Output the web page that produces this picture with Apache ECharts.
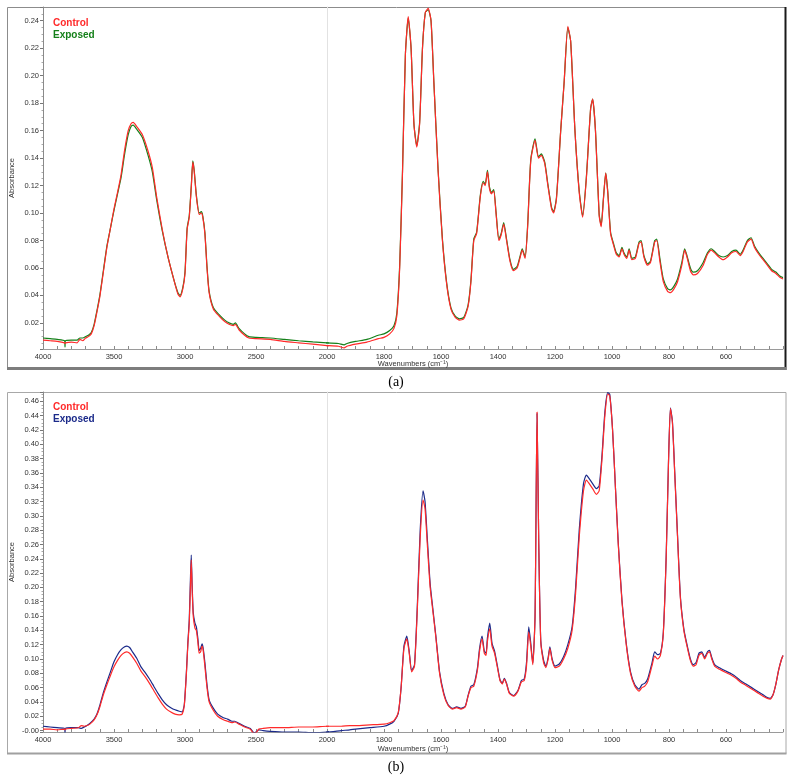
<!DOCTYPE html>
<html>
<head>
<meta charset="utf-8">
<script src="https://cdn.jsdelivr.net/npm/echarts@6/dist/echarts.min.js"></script>
<style>html,body{margin:0;padding:0;background:#fff}#c{width:792px;height:777px}</style>
</head>
<body>
<div id="c"></div>
<script>
// ---------- Panel (a) ----------
const wnA = [4000,3950,3900,3848,3845,3842,3800,3760,3740,3720,3700,3680,3660,3640,3620,3600,3575,3550,3525,3500,3475,3450,3425,3400,3380,3365,3340,3300,3260,3230,3200,3160,3120,3080,3050,3035,3015,3000,2985,2970,2955,2945,2935,2920,2900,2885,2875,2860,2845,2830,2800,2760,2720,2690,2660,2645,2620,2580,2550,2500,2400,2300,2200,2100,2000,1960,1940,1930,1900,1860,1820,1800,1780,1765,1755,1745,1735,1725,1715,1705,1695,1685,1675,1665,1655,1645,1635,1625,1610,1595,1580,1565,1550,1535,1520,1505,1495,1485,1475,1462,1452,1445,1437,1430,1423,1415,1407,1397,1389,1380,1370,1358,1346,1333,1322,1315,1305,1296,1285,1270,1258,1248,1236,1225,1212,1205,1195,1180,1168,1155,1145,1130,1115,1103,1090,1075,1068,1058,1045,1038,1030,1022,1015,1005,995,985,975,965,958,948,940,930,918,905,898,888,875,865,850,843,832,820,805,795,782,770,755,745,737,725,715,700,680,665,652,640,625,610,595,580,565,550,540,525,512,500,485,470,455,440,425,410,400];
const controlA = [0.0075,0.0070,0.0065,0.0055,0.0050,0.0055,0.0060,0.0055,0.0080,0.0070,0.0090,0.0100,0.0120,0.0180,0.0280,0.0390,0.0570,0.0750,0.0890,0.1030,0.1150,0.1280,0.1460,0.1600,0.1650,0.1660,0.1630,0.1570,0.1450,0.1330,0.1120,0.0880,0.0680,0.0520,0.0410,0.0390,0.0450,0.0560,0.0880,0.0970,0.1200,0.1370,0.1300,0.1120,0.0990,0.1000,0.0970,0.0850,0.0600,0.0420,0.0300,0.0250,0.0210,0.0190,0.0180,0.0190,0.0150,0.0110,0.0090,0.0085,0.0080,0.0065,0.0055,0.0045,0.0035,0.0030,0.0018,0.0030,0.0045,0.0060,0.0085,0.0095,0.0120,0.0160,0.0250,0.0600,0.1300,0.2150,0.2430,0.2200,0.1650,0.1480,0.1650,0.2200,0.2460,0.2490,0.2400,0.1950,0.1300,0.0800,0.0480,0.0300,0.0240,0.0220,0.0230,0.0320,0.0500,0.0800,0.0850,0.1120,0.1220,0.1200,0.1300,0.1180,0.1140,0.1160,0.1000,0.0800,0.0840,0.0920,0.0800,0.0650,0.0580,0.0600,0.0680,0.0730,0.0670,0.0900,0.1380,0.1530,0.1400,0.1420,0.1360,0.1200,0.1030,0.1000,0.1100,0.1600,0.1950,0.2360,0.2250,0.1600,0.1150,0.0970,0.1250,0.1760,0.1830,0.1600,0.0980,0.0900,0.1100,0.1290,0.1150,0.0850,0.0770,0.0700,0.0680,0.0740,0.0700,0.0670,0.0730,0.0660,0.0670,0.0780,0.0790,0.0680,0.0620,0.0640,0.0790,0.0800,0.0650,0.0500,0.0430,0.0420,0.0450,0.0500,0.0620,0.0730,0.0680,0.0580,0.0550,0.0560,0.0620,0.0700,0.0730,0.0710,0.0680,0.0660,0.0680,0.0710,0.0720,0.0690,0.0720,0.0790,0.0810,0.0750,0.0700,0.0660,0.0620,0.0580,0.0560,0.0530,0.0520];
const exposedA = [0.0090,0.0085,0.0080,0.0070,0.0025,0.0070,0.0075,0.0075,0.0090,0.0090,0.0100,0.0110,0.0130,0.0190,0.0290,0.0400,0.0580,0.0760,0.0890,0.1020,0.1140,0.1260,0.1430,0.1570,0.1630,0.1640,0.1610,0.1550,0.1420,0.1300,0.1100,0.0870,0.0680,0.0520,0.0420,0.0400,0.0460,0.0570,0.0890,0.0980,0.1210,0.1380,0.1310,0.1130,0.1000,0.1010,0.0980,0.0860,0.0610,0.0430,0.0310,0.0260,0.0220,0.0200,0.0190,0.0200,0.0160,0.0120,0.0100,0.0095,0.0090,0.0080,0.0070,0.0062,0.0055,0.0050,0.0040,0.0050,0.0065,0.0080,0.0110,0.0120,0.0145,0.0180,0.0270,0.0620,0.1310,0.2150,0.2420,0.2200,0.1650,0.1490,0.1660,0.2200,0.2460,0.2480,0.2400,0.1950,0.1310,0.0810,0.0490,0.0310,0.0250,0.0230,0.0240,0.0330,0.0510,0.0810,0.0860,0.1130,0.1230,0.1210,0.1310,0.1190,0.1150,0.1170,0.1010,0.0810,0.0850,0.0930,0.0810,0.0660,0.0590,0.0610,0.0690,0.0740,0.0680,0.0910,0.1390,0.1540,0.1410,0.1430,0.1370,0.1210,0.1040,0.1010,0.1110,0.1600,0.1950,0.2350,0.2250,0.1600,0.1160,0.0980,0.1260,0.1760,0.1830,0.1600,0.0990,0.0910,0.1110,0.1290,0.1160,0.0860,0.0780,0.0710,0.0690,0.0750,0.0710,0.0680,0.0740,0.0670,0.0680,0.0790,0.0800,0.0690,0.0630,0.0650,0.0800,0.0810,0.0670,0.0520,0.0450,0.0440,0.0470,0.0520,0.0640,0.0740,0.0690,0.0600,0.0570,0.0580,0.0640,0.0710,0.0740,0.0720,0.0690,0.0680,0.0690,0.0720,0.0730,0.0700,0.0730,0.0800,0.0820,0.0760,0.0710,0.0670,0.0630,0.0590,0.0570,0.0540,0.0530];

// ---------- Panel (b) ----------
const wnB = [4000,3950,3900,3848,3845,3842,3800,3750,3730,3710,3690,3670,3640,3620,3600,3575,3550,3525,3500,3475,3450,3425,3410,3390,3370,3340,3310,3280,3250,3220,3190,3160,3130,3100,3070,3040,3020,3005,2990,2980,2970,2962,2956,2950,2942,2930,2920,2910,2900,2890,2880,2872,2860,2845,2830,2800,2770,2730,2700,2670,2650,2620,2580,2540,2515,2500,2480,2450,2400,2300,2200,2100,2000,1950,1920,1900,1850,1800,1780,1765,1750,1740,1730,1720,1712,1703,1693,1683,1673,1663,1656,1648,1638,1628,1618,1605,1590,1575,1560,1545,1530,1515,1505,1495,1485,1472,1465,1456,1448,1442,1437,1429,1421,1412,1402,1393,1385,1378,1370,1360,1345,1330,1318,1308,1300,1292,1285,1278,1270,1263,1257,1250,1240,1232,1224,1218,1210,1200,1185,1170,1155,1140,1128,1115,1100,1090,1080,1068,1055,1045,1035,1025,1015,1008,998,988,978,965,950,935,920,905,895,885,875,860,850,840,830,820,810,802,795,788,780,770,760,748,738,725,715,705,695,685,675,665,658,650,640,625,610,595,580,565,550,530,510,490,470,455,445,435,425,415,405,400];
const controlB = [0.002,0.002,0.001,0.002,0.001,0.002,0.003,0.004,0.007,0.006,0.007,0.009,0.015,0.022,0.033,0.050,0.064,0.077,0.089,0.098,0.105,0.109,0.110,0.108,0.103,0.094,0.083,0.075,0.066,0.056,0.046,0.037,0.030,0.026,0.023,0.022,0.023,0.035,0.080,0.120,0.150,0.200,0.238,0.200,0.160,0.143,0.140,0.125,0.108,0.110,0.118,0.112,0.090,0.060,0.040,0.028,0.020,0.015,0.013,0.011,0.012,0.009,0.005,0.002,-0.004,-0.003,0.002,0.003,0.004,0.004,0.005,0.005,0.006,0.006,0.007,0.007,0.008,0.009,0.011,0.014,0.025,0.060,0.115,0.128,0.110,0.082,0.090,0.170,0.270,0.322,0.310,0.260,0.200,0.165,0.130,0.080,0.050,0.035,0.030,0.032,0.030,0.033,0.048,0.060,0.062,0.085,0.110,0.128,0.108,0.105,0.125,0.142,0.118,0.108,0.088,0.070,0.065,0.072,0.065,0.052,0.048,0.055,0.068,0.070,0.090,0.138,0.118,0.092,0.160,0.445,0.260,0.125,0.095,0.088,0.100,0.115,0.098,0.088,0.090,0.100,0.115,0.140,0.190,0.270,0.335,0.350,0.345,0.338,0.330,0.335,0.380,0.440,0.470,0.468,0.420,0.340,0.260,0.180,0.120,0.080,0.062,0.055,0.060,0.062,0.068,0.090,0.104,0.100,0.105,0.135,0.240,0.370,0.450,0.430,0.360,0.270,0.185,0.140,0.120,0.098,0.090,0.092,0.105,0.108,0.100,0.108,0.110,0.100,0.090,0.086,0.083,0.080,0.077,0.073,0.068,0.063,0.058,0.053,0.048,0.045,0.044,0.050,0.065,0.085,0.100,0.105];
const exposedB = [0.006,0.005,0.004,0.003,-0.003,0.003,0.004,0.004,0.003,0.005,0.007,0.010,0.016,0.023,0.035,0.053,0.068,0.082,0.096,0.106,0.113,0.117,0.118,0.116,0.110,0.101,0.089,0.081,0.072,0.062,0.052,0.043,0.036,0.032,0.029,0.027,0.026,0.036,0.082,0.122,0.155,0.210,0.245,0.205,0.165,0.150,0.145,0.130,0.112,0.115,0.121,0.115,0.095,0.064,0.043,0.031,0.023,0.018,0.016,0.013,0.013,0.010,0.006,0.003,-0.003,-0.002,0.001,0.000,-0.001,-0.002,-0.002,-0.003,-0.002,0.000,0.001,0.002,0.004,0.006,0.009,0.013,0.024,0.060,0.118,0.132,0.112,0.084,0.092,0.175,0.280,0.335,0.320,0.268,0.205,0.168,0.132,0.082,0.052,0.036,0.031,0.033,0.031,0.034,0.049,0.062,0.064,0.088,0.114,0.132,0.111,0.108,0.130,0.150,0.122,0.111,0.090,0.071,0.066,0.073,0.066,0.053,0.049,0.056,0.070,0.072,0.095,0.145,0.122,0.094,0.160,0.443,0.260,0.126,0.098,0.090,0.102,0.117,0.100,0.090,0.093,0.103,0.120,0.145,0.198,0.280,0.345,0.357,0.352,0.345,0.338,0.342,0.385,0.445,0.472,0.470,0.420,0.340,0.262,0.182,0.122,0.082,0.064,0.058,0.064,0.066,0.072,0.094,0.110,0.106,0.108,0.137,0.242,0.372,0.451,0.432,0.362,0.272,0.187,0.142,0.122,0.100,0.092,0.095,0.108,0.110,0.102,0.110,0.112,0.102,0.092,0.088,0.085,0.082,0.079,0.075,0.070,0.065,0.060,0.055,0.050,0.046,0.045,0.050,0.065,0.085,0.100,0.105];

// tick labels
const xLabelsHigh = [4000,3500,3000,2500];
const xLabelsLow = [2000,1800,1600,1400,1200,1000,800,600];
const seriesNames = ['Control','Exposed'];

const RED = '#ff2a2a', GREEN = '#15801a', NAVY = '#1b2a8a';
const FONT = 'Liberation Sans';

function pairs(x, y){ return x.map((w,i)=>[w,y[i]]); }

const panels = [
  {top:7, height:342, ymin:0.001, ymax:0.25, split:12, wn:wnA, ctrl:controlA, exp:exposedA, expColor:GREEN, zeroLabel:''},
  {top:392, height:340, ymin:-0.002, ymax:0.473, split:24, wn:wnB, ctrl:controlB, exp:exposedB, expColor:NAVY, zeroLabel:'-0.00'}
];

const grids=[], xAxes=[], yAxes=[], series=[];
panels.forEach((p,pi)=>{
  grids.push({left:43, top:p.top, width:284, height:p.height, containLabel:false});
  grids.push({left:327, top:p.top, width:456, height:p.height, containLabel:false});
  const gi = pi*2;
  const commonX = {
    type:'value', inverse:true, splitLine:{show:false},
    axisLine:{onZero:false, lineStyle:{color:'#9a9a9a', width:1}},
    axisTick:{show:true, inside:true, length:3, lineStyle:{color:'#8a8a8a'}},
    axisLabel:{fontFamily:FONT, fontSize:7.5, color:'#333', margin:4, showMinLabel:true, showMaxLabel:true}
  };
  xAxes.push(Object.assign({}, commonX, {gridIndex:gi, min:2000, max:4000, interval:100,
    axisLabel:Object.assign({}, commonX.axisLabel, {formatter:v=> xLabelsHigh.includes(Math.round(v)) ? String(Math.round(v)) : ''})}));
  xAxes.push(Object.assign({}, commonX, {gridIndex:gi+1, min:400, max:2000, interval:50,
    axisLabel:Object.assign({}, commonX.axisLabel, {formatter:v=> xLabelsLow.includes(Math.round(v)) ? String(Math.round(v)) : ''})}));
  const yFmt = v=>{
    if (Math.abs(v) < 1e-9) return p.zeroLabel;
    const k = v/0.02;
    if (Math.abs(k-Math.round(k)) < 1e-6) return v.toFixed(2);
    return '';
  };
  yAxes.push({type:'value', gridIndex:gi, min:p.ymin, max:p.ymax, splitNumber:p.split, minInterval:0.02, maxInterval:0.02,
    splitLine:{show:false},
    axisLine:{onZero:false, lineStyle:{color:'#8a8a8a'}},
    axisTick:{show:true, inside:false, length:3, lineStyle:{color:'#777'}},
    minorTick:{show:true, splitNumber:4, length:1.5, lineStyle:{color:'#aaa'}},
    axisLabel:{fontFamily:FONT, fontSize:7.5, color:'#333', margin:4, formatter:yFmt}});
  yAxes.push({type:'value', gridIndex:gi+1, min:p.ymin, max:p.ymax, splitNumber:p.split, minInterval:0.02, maxInterval:0.02,
    splitLine:{show:false},
    axisLine:{show:true, onZero:false, lineStyle:{color:'#e2e2e2'}},
    axisTick:{show:false}, axisLabel:{show:false}});
  [0,1].forEach(part=>{
    series.push({type:'line', name:seriesNames[1]+pi, xAxisIndex:gi+part, yAxisIndex:gi+part,
      data:pairs(p.wn, p.exp), showSymbol:false, symbol:'none', clip:true, smooth:0.2,
      lineStyle:{color:p.expColor, width:1.2}, z:2});
    series.push({type:'line', name:seriesNames[0]+pi, xAxisIndex:gi+part, yAxisIndex:gi+part,
      data:pairs(p.wn, p.ctrl), showSymbol:false, symbol:'none', clip:true, smooth:0.2,
      lineStyle:{color:RED, width:1.2}, z:3});
  });
});

const graphic = [
  {type:'rect', shape:{x:7.5,y:7.5,width:778,height:361}, style:{fill:null, stroke:'#8c8c8c', lineWidth:1}, silent:true},
  {type:'line', shape:{x1:785.5,y1:7,x2:785.5,y2:370}, style:{stroke:'#1a1a1a', lineWidth:2}, silent:true},
  {type:'line', shape:{x1:7,y1:368.5,x2:786,y2:368.5}, style:{stroke:'#7d7d7d', lineWidth:3}, silent:true},
  {type:'rect', shape:{x:7.5,y:392.5,width:778.5,height:361}, style:{fill:null, stroke:'#a8a8a8', lineWidth:1}, silent:true},
  {type:'line', shape:{x1:7,y1:753.5,x2:786.5,y2:753.5}, style:{stroke:'#a0a0a0', lineWidth:2}, silent:true},
  {type:'text', x:53, y:18, style:{text:seriesNames[0], fill:RED, font:'bold 10px "Liberation Sans"'}},
  {type:'text', x:53, y:30, style:{text:seriesNames[1], fill:GREEN, font:'bold 10px "Liberation Sans"'}},
  {type:'text', x:53, y:402, style:{text:seriesNames[0], fill:RED, font:'bold 10px "Liberation Sans"'}},
  {type:'text', x:53, y:414, style:{text:seriesNames[1], fill:NAVY, font:'bold 10px "Liberation Sans"'}},
  {type:'text', x:413, y:364, style:{text:'Wavenumbers (cm\u207B\u00B9)', fill:'#333', font:'7.5px "Liberation Sans"', align:'center', verticalAlign:'middle'}},
  {type:'text', x:413, y:749, style:{text:'Wavenumbers (cm\u207B\u00B9)', fill:'#333', font:'7.5px "Liberation Sans"', align:'center', verticalAlign:'middle'}},
  {type:'text', x:12, y:178, rotation:Math.PI/2, style:{text:'Absorbance', fill:'#333', font:'7.5px "Liberation Sans"', align:'center', verticalAlign:'middle'}},
  {type:'text', x:12, y:562, rotation:Math.PI/2, style:{text:'Absorbance', fill:'#333', font:'7.5px "Liberation Sans"', align:'center', verticalAlign:'middle'}},
  {type:'text', x:396, y:382, style:{text:'(a)', fill:'#000', font:'14px "Liberation Serif"', align:'center', verticalAlign:'middle'}},
  {type:'text', x:396, y:767, style:{text:'(b)', fill:'#000', font:'14px "Liberation Serif"', align:'center', verticalAlign:'middle'}}
];

const chart = echarts.init(document.getElementById('c'), null, {renderer:'canvas'});
chart.setOption({animation:false, backgroundColor:'#fff', grid:grids, xAxis:xAxes, yAxis:yAxes, series:series, graphic:graphic});
</script>
</body>
</html>
